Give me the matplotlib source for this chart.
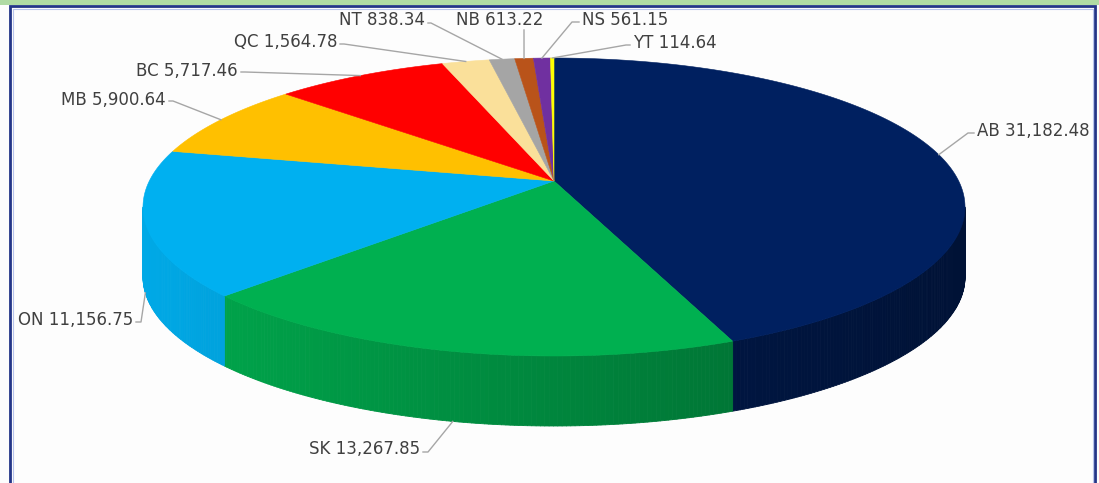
import numpy as np
import matplotlib
matplotlib.use("Agg")
import matplotlib.pyplot as plt
from matplotlib.collections import PolyCollection
from matplotlib.colors import to_rgb

provinces = ["AB", "SK", "ON", "MB", "BC", "QC", "NT", "NB", "NS", "YT"]
values = [31182.48, 13267.85, 11156.75, 5900.64, 5717.46, 1564.78, 838.34, 613.22, 561.15, 114.64]
colors = ["#002060", "#00b050", "#00b0f0", "#ffc000", "#ff0000",
          "#fae09a", "#a5a5a5", "#b9531a", "#7030a0", "#ffff00"]

# label layout: text x, text y, alignment, elbow of the leader line
label_pos = {
    "AB": (977, 131, "left", (968, 133)),
    "SK": (420, 449, "right", (428, 452)),
    "ON": (133, 320, "right", (141, 322)),
    "MB": (166, 100, "right", (173, 101)),
    "BC": (238, 71, "right", (245, 72)),
    "QC": (337, 42, "right", (344, 44)),
    "NT": (425, 20, "right", (431, 23)),
    "NB": (500, 20, "center", (524, 30)),
    "NS": (582, 20, "left", (572, 22)),
    "YT": (633, 43, "left", (626, 45)),
}

# pie geometry (pixels)
CX, CY = 554, 207        # centre of the projected top ellipse
RX, RY = 411, 149
APEX_Y = 181             # where the slices meet (perspective)
DEPTH = 70

t = np.arctanh((APEX_Y - CY) / RY)
C, S = np.cosh(t), np.sinh(t)


def rim(theta):
    # theta in degrees, clockwise from 12 o'clock
    a = np.radians(theta)
    x, y = np.sin(a), -np.cos(a)
    d = S * y + C
    xp = x / d
    yp = (C * y + S) / d
    return CX + RX * xp, CY + RY * yp, xp, yp


fig = plt.figure(figsize=(10.99, 4.83), dpi=100)
fig.patch.set_facecolor("#fdfdfd")
ax = fig.add_axes([0, 0, 1, 1])
ax.set_xlim(0, 1099)
ax.set_ylim(483, 0)
ax.axis("off")

# frame
ax.add_patch(plt.Rectangle((0, 0), 1099, 5, color="#b0dba4", lw=0, zorder=0))
ax.plot([10, 10, 1095, 1095], [483, 6, 6, 483], color="#233588", lw=2.0,
        solid_joinstyle="miter", zorder=1)
ax.plot([12.5, 12.5, 1092.5, 1092.5], [483, 8.5, 8.5, 483], color="#b8c4ec",
        lw=0.8, zorder=1)

total = sum(values)
bounds = np.concatenate([[0], np.cumsum(values) / total * 360])
th_right = np.degrees(np.arccos(S / C))
th_left = 360 - th_right

# side walls
for i, col in enumerate(colors):
    lo, hi = max(bounds[i], th_right), min(bounds[i + 1], th_left)
    if hi <= lo:
        continue
    th = np.linspace(lo, hi, max(int((hi - lo) * 2), 2))
    xs, ys, xps, _ = rim(th)
    base = np.array(to_rgb(col))
    quads, fcs = [], []
    for k in range(len(th) - 1):
        quads.append([(xs[k], ys[k]), (xs[k + 1], ys[k + 1]),
                      (xs[k + 1], ys[k + 1] + DEPTH), (xs[k], ys[k] + DEPTH)])
        f = 0.76 - 0.2 * (xps[k] + xps[k + 1]) / 2
        fcs.append(np.clip(base * f, 0, 1))
    ax.add_collection(PolyCollection(quads, facecolors=fcs, edgecolors=fcs,
                                     linewidths=0.6, zorder=2))

# top faces
for i, col in enumerate(colors):
    th = np.linspace(bounds[i], bounds[i + 1], max(int((bounds[i + 1] - bounds[i]) * 2), 2))
    xs, ys, _, _ = rim(th)
    px = np.concatenate([[CX], xs])
    py = np.concatenate([[APEX_Y], ys])
    ax.fill(px, py, color=col, lw=0.4, ec=col, zorder=3)

# labels with leader lines
for i, p in enumerate(provinces):
    mid = (bounds[i] + bounds[i + 1]) / 2
    ax_, ay_, _, yp = rim(mid)
    if yp > 0:
        ay_ += DEPTH
    tx, ty, ha, (ex, ey) = label_pos[p]
    lx, ly = [ax_, ex], [ay_, ey]
    if ha == "left":
        lx.append(tx - 3); ly.append(ey)
    elif ha == "right":
        lx.append(tx + 3); ly.append(ey)
    ax.plot(lx, ly, color="#a6a6a6", lw=1.0, zorder=4)
    ax.text(tx, ty, f"{p} {values[i]:,.2f}", ha=ha, va="center",
            fontsize=12, color="#404040", family="DejaVu Sans", zorder=5)

fig.savefig("out.png", dpi=100, facecolor=fig.get_facecolor())
